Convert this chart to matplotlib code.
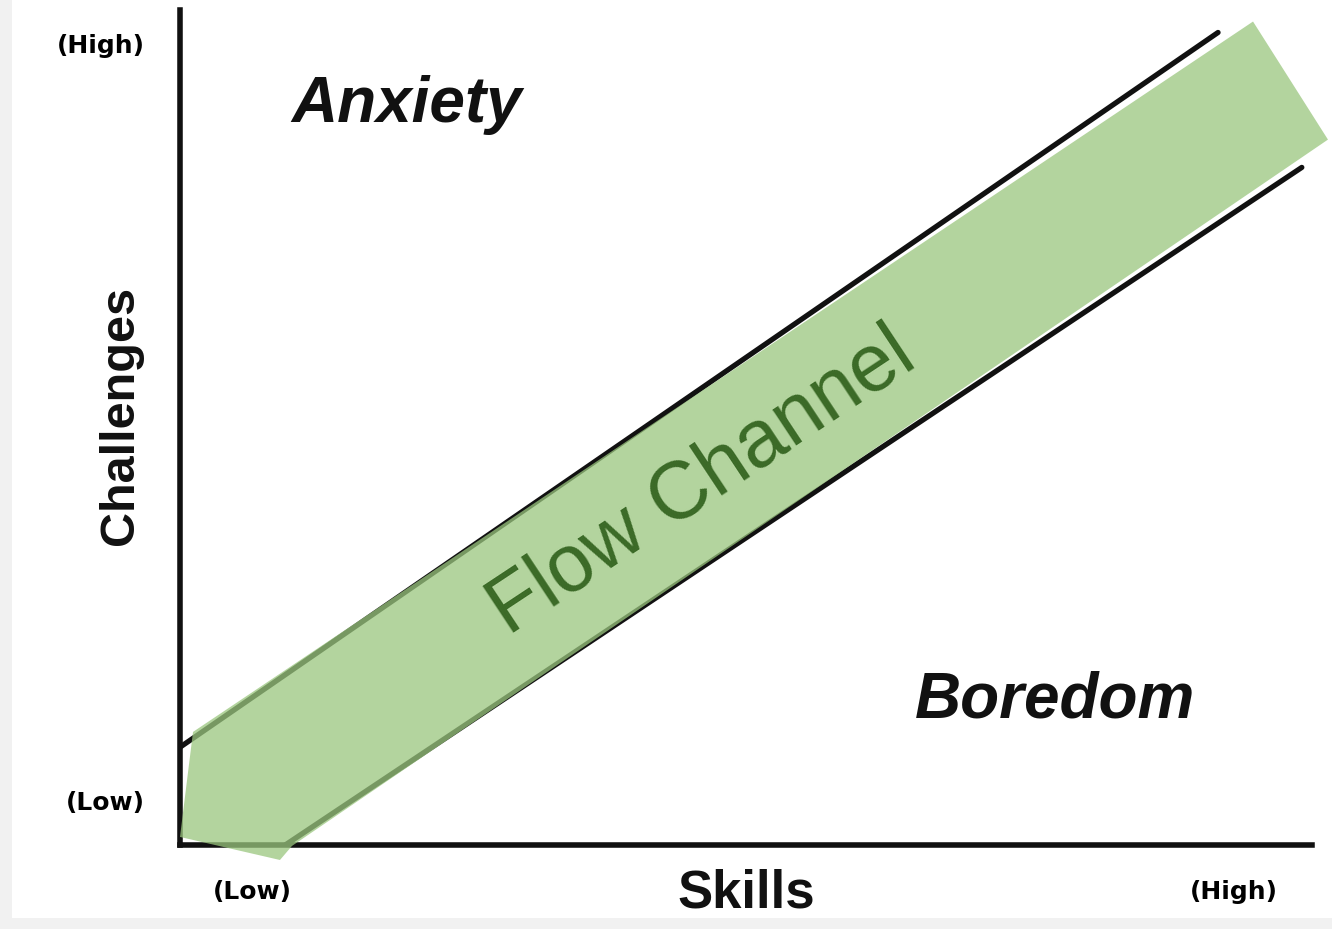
import matplotlib.pyplot as plt
from matplotlib.patches import Polygon, Rectangle

# Flow model diagram (skills vs challenges), values in axis units 0..1
upper_x = [0.0, 0.917]
upper_y = [0.117, 0.9725]
lower_x = [0.093, 0.991]
lower_y = [0.0, 0.811]

# green flow band overlay (corners)
band_x = [0.0, 0.0115, 0.9479, 1.0141, 0.0989, 0.0883]
band_y = [0.0096, 0.1353, 0.9856, 0.8443, -0.0012, -0.018]

x_ticks = [0.064, 0.931]
x_tick_labels = ["(Low)", "(High)"]
y_ticks = [0.054, 0.960]
y_tick_labels = ["(Low)", "(High)"]

plt.rcParams['font.family'] = ['Liberation Sans', 'DejaVu Sans']

fig = plt.figure(figsize=(13.32, 9.295), dpi=100, facecolor='#f1f1f1')
# white scanned area
fig.patches.append(Rectangle((12 / 1332, 11 / 929), 1 - 12 / 1332, 1 - 11 / 929,
                             transform=fig.transFigure, facecolor='white',
                             edgecolor='none', zorder=-10))

ax = fig.add_axes([180 / 1332, 84 / 929, 1132 / 1332, 835 / 929])
ax.set_facecolor('none')
ax.set_xlim(0, 1)
ax.set_ylim(0, 1)

for s in ['top', 'right']:
    ax.spines[s].set_visible(False)
for s in ['left', 'bottom']:
    ax.spines[s].set_linewidth(4)
    ax.spines[s].set_color('#111111')
    ax.spines[s].set_zorder(1)

ax.plot(upper_x, upper_y, color='#111111', lw=3.8, solid_capstyle='round', zorder=2)
ax.plot(lower_x, lower_y, color='#111111', lw=3.8, solid_capstyle='round', zorder=2)

# semi-transparent overlay, the black lines show through it
band = Polygon(list(zip(band_x, band_y)), closed=True, facecolor='#9ac67e',
               alpha=0.75, edgecolor='none', clip_on=False, zorder=3)
ax.add_patch(band)

ax.set_xticks(x_ticks)
ax.set_xticklabels(x_tick_labels, fontsize=18, fontweight='bold', family='DejaVu Sans')
ax.set_yticks(y_ticks)
ax.set_yticklabels(y_tick_labels, fontsize=18, fontweight='bold', family='DejaVu Sans')
ax.tick_params(axis='x', length=0, pad=25)
ax.tick_params(axis='y', length=0, pad=25)

ax.text(0.5, -0.0575, "Skills", transform=ax.transAxes, ha='center', va='center',
        fontsize=38, fontweight='bold', color='#111111')
ax.text(-0.053, 0.515, "Challenges", transform=ax.transAxes, ha='center', va='center',
        rotation=90, fontsize=35, fontweight='bold', color='#111111')

ax.text(0.2005, 0.886, "Anxiety", ha='center', va='center', fontsize=46,
        fontweight='bold', style='italic', color='#111111')
ax.text(0.773, 0.174, "Boredom", ha='center', va='center', fontsize=46,
        fontweight='bold', style='italic', color='#111111')
ax.text(0.461, 0.434, "Flow Channel", ha='center', va='center', fontsize=58,
        rotation=33.5, rotation_mode='anchor', color='#3b6a27', zorder=4)

fig.savefig('out.png', dpi=100, facecolor=fig.get_facecolor())
